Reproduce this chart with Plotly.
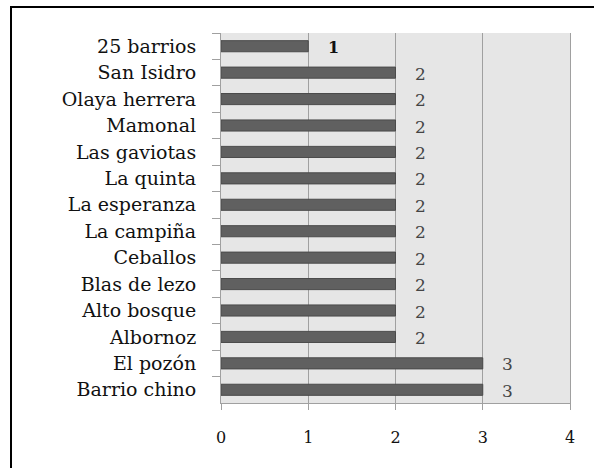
import plotly.graph_objects as go

categories = ["25 barrios", "San Isidro", "Olaya herrera", "Mamonal", "Las gaviotas",
              "La quinta", "La esperanza", "La campiña", "Ceballos", "Blas de lezo",
              "Alto bosque", "Albornoz", "El pozón", "Barrio chino"]
values = [1, 2, 2, 2, 2, 2, 2, 2, 2, 2, 2, 2, 3, 3]
x_ticks = [0, 1, 2, 3, 4]

FONT = "DejaVu Serif"

fig = go.Figure()
fig.add_trace(go.Bar(
    x=values, y=categories, orientation="h", width=0.42,
    marker=dict(color="#606060", line=dict(color="#4a4a4a", width=1)),
    hoverinfo="skip",
))

for c, v in zip(categories, values):
    fig.add_annotation(x=v, y=c, text=("<b>%d</b>" % v) if v == 1 else str(v),
                       showarrow=False, xanchor="center", yshift=-1,
                       xshift=25, font=dict(family=FONT, size=17 if v > 1 else 16,
                                            color="#111" if v == 1 else "#444"))

fig.add_shape(type="rect", xref="paper", yref="paper", x0=-0.6017, x1=1.1,
              y0=-0.3, y1=1.0703, line=dict(color="black", width=2), layer="above")

fig.update_layout(
    width=594, height=468,
    margin=dict(l=221, r=24, t=33, b=65),
    paper_bgcolor="white", plot_bgcolor="#e6e6e6",
    showlegend=False,
    font=dict(family=FONT, color="#111"),
)
fig.update_xaxes(range=[0, 4], tickvals=x_ticks, showgrid=True, gridcolor="#a0a0a0",
                 gridwidth=1, showline=True, linecolor="#a0a0a0", linewidth=1,
                 ticks="outside", ticklen=6, tickcolor="#a0a0a0", zeroline=False,
                 tickfont=dict(family=FONT, size=16, color="#111"),
                 ticklabelstandoff=14, fixedrange=True)
fig.update_yaxes(autorange="reversed", showgrid=False, showline=True, mirror=True,
                 linecolor="#a0a0a0", linewidth=1, ticks="outside", ticklen=8,
                 tickcolor="#a0a0a0", tickson="boundaries", ticklabelstandoff=20,
                 tickfont=dict(family=FONT, size=19, color="#111"), fixedrange=True)

fig.write_html("out.html", config={"displayModeBar": False},
               post_script="document.body.style.margin='0';")
